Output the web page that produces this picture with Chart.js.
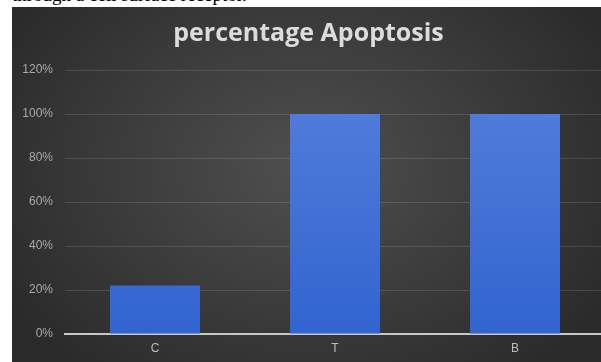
<!DOCTYPE html>
<html>
<head>
<meta charset="utf-8">
<script src="https://cdn.jsdelivr.net/npm/chart.js@4/dist/chart.umd.min.js"></script>
<style>
  html, body { margin: 0; padding: 0; background: #fff; width: 601px; height: 362px; overflow: hidden; }
  #caption { position: absolute; left: 12px; top: -16px; font-family: "Liberation Serif", "DejaVu Serif", serif; font-size: 19px; color: #000; white-space: nowrap; }
  #wrap { position: absolute; left: 12px; top: 7px; width: 589px; height: 355px; overflow: hidden;
    background: radial-gradient(ellipse 60% 75% at 50% 45%, #4f4f4f 0%, #3b3b3b 55%, #2a2a2a 100%); }
</style>
</head>
<body>
<div id="caption">through a cell surface receptor.</div>
<div id="wrap"><canvas id="c" width="593" height="355"></canvas></div>
<script>
const categories = ['C', 'T', 'B'];
const apoptosisPercent = [22, 100, 100];
const yTicks = [0, 20, 40, 60, 80, 100, 120];

const ctx = document.getElementById('c');
new Chart(ctx, {
  type: 'bar',
  data: {
    labels: categories,
    datasets: [{
      label: 'percentage Apoptosis',
      data: apoptosisPercent,
      backgroundColor: (c) => {
        const area = c.chart.chartArea;
        if (!area) return '#3c6fd6';
        const g = c.chart.ctx.createLinearGradient(0, area.top, 0, area.bottom);
        g.addColorStop(0, '#5580dc');
        g.addColorStop(1, '#3164cf');
        return g;
      },
      borderWidth: 0,
      barPercentage: 0.5,
      categoryPercentage: 1.0
    }]
  },
  options: {
    responsive: false,
    animation: false,
    layout: { padding: { top: 0, right: 0, bottom: 0, left: 0 } },
    plugins: {
      legend: { display: false },
      tooltip: { enabled: false },
      title: {
        display: true,
        text: 'percentage Apoptosis',
        color: '#dcdcdc',
        font: { family: 'Open Sans', size: 25, weight: 'bold' },
        padding: { top: 12, bottom: 21 }
      }
    },
    scales: {
      x: {
        grid: { display: false, drawTicks: false },
        border: { display: true, color: '#c8c8c8', width: 2 },
        ticks: { color: '#bdbdbd', font: { family: 'Liberation Sans', size: 12 }, padding: 7 },
        afterFit: (s) => { s.height = 28; }
      },
      y: {
        min: 0, max: 120,
        afterBuildTicks: (s) => { s.ticks = yTicks.map(v => ({ value: v })); },
        grid: { color: 'rgba(255,255,255,0.13)', drawTicks: false, lineWidth: 1 },
        border: { display: false },
        ticks: {
          color: '#a8a8a8',
          font: { family: 'Liberation Sans', size: 12 },
          padding: 12,
          callback: (v) => v + '%'
        },
        afterFit: (s) => { s.width = 53; }
      }
    }
  }
});
</script>
</body>
</html>
